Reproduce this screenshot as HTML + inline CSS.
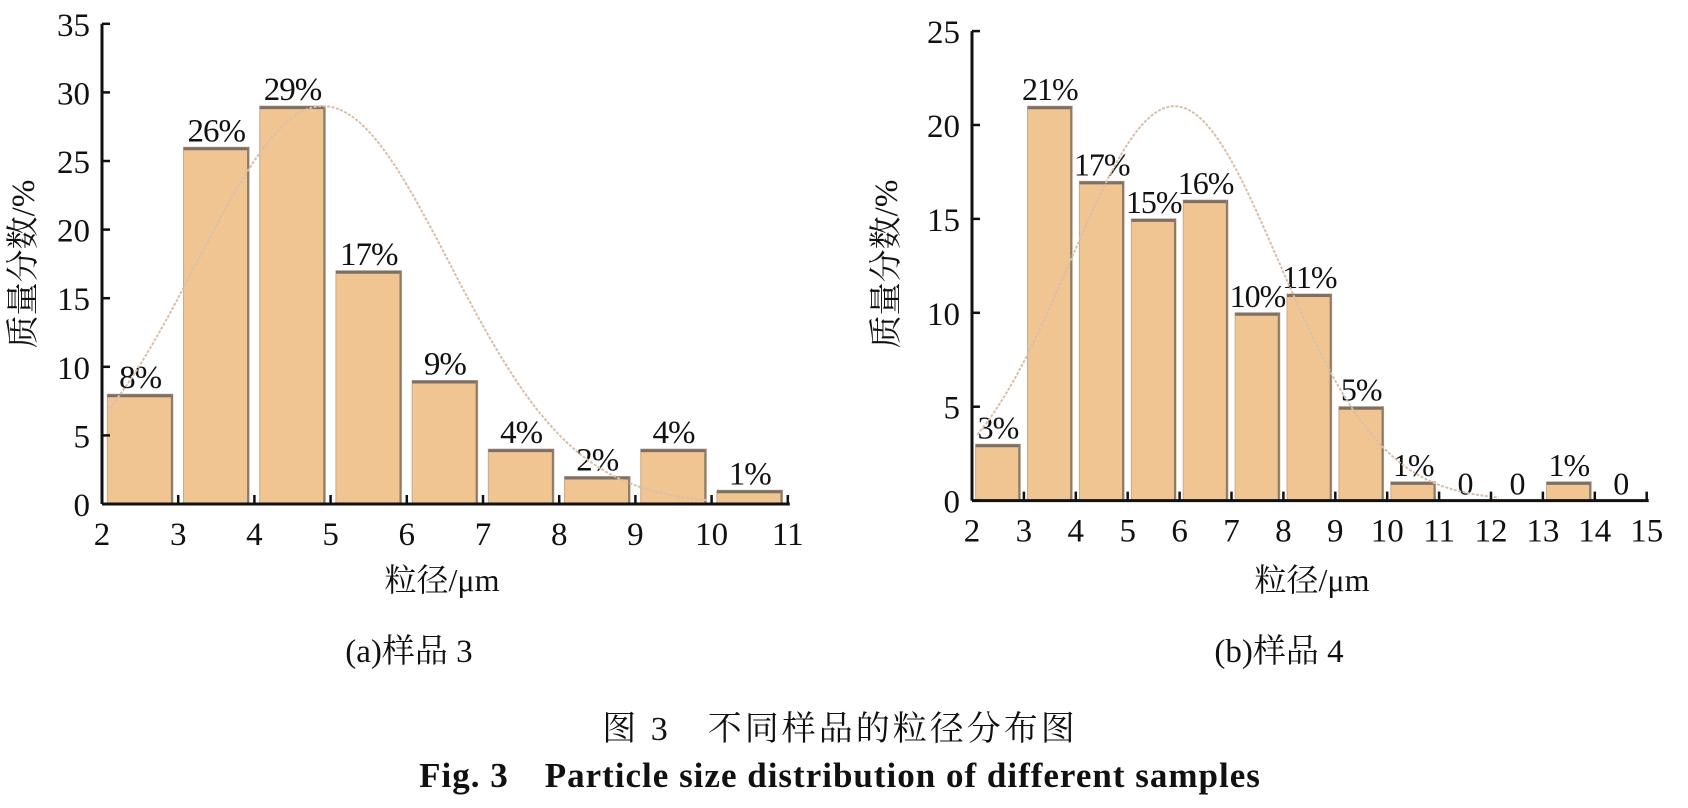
<!DOCTYPE html>
<html><head><meta charset="utf-8"><style>
html,body{margin:0;padding:0;background:#fff;}
svg{display:block;}
text{font-family:"Liberation Serif","Noto Serif CJK SC",serif;fill:#111;}
</style></head><body>
<svg id="s" width="1688" height="808" viewBox="0 0 1688 808" xmlns="http://www.w3.org/2000/svg"></svg>
<script>
const s=document.getElementById('s');let h='';
function chart(o){
 const X=v=>o.x0+(v-o.xmin)*o.ux, Y=v=>o.y0-v*o.uy;
 o.data.forEach((d,i)=>{const a=o.xmin+i; if(d>0){const x1=X(a+0.07),x2=X(a+0.93),yt=Y(d);
  h+=`<rect x="${x1}" y="${yt}" width="${x2-x1}" height="${o.y0-yt}" fill="#f1c592" stroke="#c9a98a" stroke-width="1"/>`;
  h+=`<line x1="${x1}" y1="${yt+1.5}" x2="${x2}" y2="${yt+1.5}" stroke="#7a7068" stroke-width="3"/>`;
  h+=`<line x1="${x2-1}" y1="${yt}" x2="${x2-1}" y2="${o.y0}" stroke="#8a7a6a" stroke-width="2"/>`;}
  const lbl=d>0?d+'%':'0';
  h+=`<text x="${X(a+0.5)}" y="${Y(d)-6}" font-size="${o.lf}" text-anchor="middle" letter-spacing="-1">${lbl}</text>`;});
 let p='';for(let v=o.cs;v<=o.ce;v+=0.05){const y=o.pk*Math.exp(-((v-o.mu)**2)/o.k);p+=(p?'L':'M')+X(v).toFixed(1)+','+Y(y).toFixed(1);}
 h+=`<path d="${p}" fill="none" stroke="#d9bfa8" stroke-width="2" stroke-dasharray="3,1.5"/>`;
 h+=`<line x1="${o.x0}" y1="${Y(o.ymax)}" x2="${o.x0}" y2="${o.y0}" stroke="#111" stroke-width="3"/>`;
 h+=`<line x1="${o.x0}" y1="${o.y0}" x2="${X(o.xmax)+2}" y2="${o.y0}" stroke="#111" stroke-width="3"/>`;
 for(let v=0;v<=o.ymax;v+=5){h+=`<line x1="${o.x0}" y1="${Y(v)}" x2="${o.x0+8}" y2="${Y(v)}" stroke="#111" stroke-width="2.5"/>`;
  h+=`<text x="${o.x0-12}" y="${Y(v)+12}" font-size="33" text-anchor="end">${v}</text>`;}
 for(let v=o.xmin;v<=o.xmax;v++){h+=`<line x1="${X(v)}" y1="${o.y0}" x2="${X(v)}" y2="${o.y0-9}" stroke="#111" stroke-width="2.5"/>`;
  h+=`<text x="${X(v)}" y="${o.y0+41}" font-size="33" text-anchor="middle">${v}</text>`;}
 h+=`<text x="${o.xl}" y="591" font-size="32" text-anchor="middle">粒径/μm</text>`;
 h+=`<text transform="translate(${o.yl},264) rotate(-90)" font-size="33" text-anchor="middle">质量分数/%</text>`;
}
chart({x0:102,y0:504,ux:76.2,uy:13.72,xmin:2,xmax:11,ymax:35,data:[8,26,29,17,9,4,2,4,1],pk:29,mu:4.9,k:5.49,cs:2.1,ce:10,xl:442,yl:34,lf:33});
chart({x0:972,y0:500.6,ux:51.9,uy:18.78,xmin:2,xmax:15,ymax:25,data:[3,21,17,15,16,10,11,5,1,0,0,1,0],pk:21,mu:5.9,k:8.07,cs:2.1,ce:12.2,xl:1312,yl:897,lf:32});
h+=`<text x="409" y="662" font-size="33" text-anchor="middle">(a)样品 3</text>`;
h+=`<text x="1279" y="662" font-size="33" text-anchor="middle">(b)样品 4</text>`;
h+=`<text x="840" y="740" font-size="34" text-anchor="middle" letter-spacing="3">图 3　不同样品的粒径分布图</text>`;
h+=`<text x="840" y="787" font-size="35" font-weight="bold" text-anchor="middle" letter-spacing="1">Fig. 3　Particle size distribution of different samples</text>`;
s.innerHTML=h;
</script>
</body></html>
